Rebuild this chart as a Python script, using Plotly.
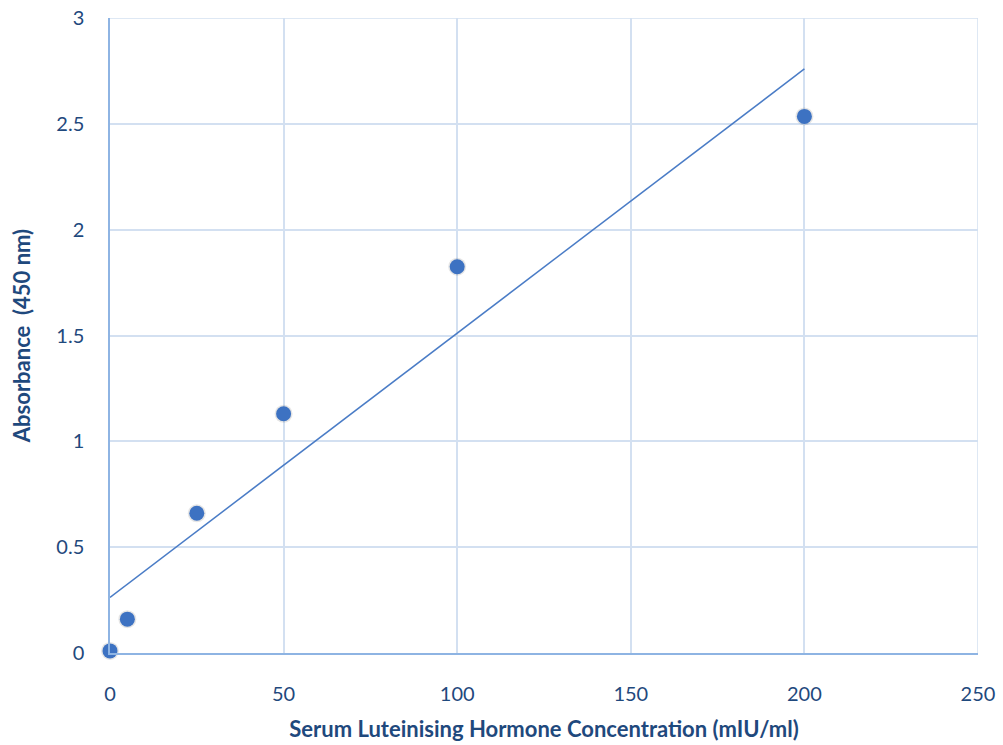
import numpy as np
import plotly.graph_objects as go

concentration = [0, 5, 25, 50, 100, 200]
absorbance = [0.01, 0.16, 0.66, 1.13, 1.825, 2.535]
x_ticks = [0, 50, 100, 150, 200, 250]
y_ticks = [0, 0.5, 1, 1.5, 2, 2.5, 3]
y_tick_labels = ["0", "0.5", "1", "1.5", "2", "2.5", "3"]

slope, intercept = np.polyfit(concentration, absorbance, 1)
trend_x = [min(concentration), max(concentration)]
trend_y = [intercept + slope * v for v in trend_x]

navy = "#1F497D"
font = "Lato, 'Open Sans', sans-serif"
grid = "#D3E0F1"

fig = go.Figure()
fig.add_trace(go.Scatter(
    x=trend_x, y=trend_y, mode="lines",
    line=dict(color="#4A7CC6", width=1.5),
    hoverinfo="skip", showlegend=False))
# soft shadow
fig.add_trace(go.Scatter(
    x=concentration, y=absorbance, mode="markers",
    marker=dict(size=18, color="rgba(0,0,0,0.10)", line=dict(width=0)),
    hoverinfo="skip", showlegend=False, cliponaxis=False))
fig.add_trace(go.Scatter(
    x=concentration, y=absorbance, mode="markers",
    marker=dict(size=15, color="#3D72C2", line=dict(width=0)),
    showlegend=False, cliponaxis=False))

fig.update_layout(
    width=1003, height=745,
    margin=dict(l=110, r=25, t=18, b=92),
    paper_bgcolor="white", plot_bgcolor="white",
    font=dict(family=font, color=navy, size=20),
    xaxis=dict(
        range=[0, 250], tickvals=x_ticks, ticktext=[str(t) for t in x_ticks],
        showgrid=True, gridcolor=grid, gridwidth=1.5,
        showline=True, linecolor="#8EB4E3", linewidth=1.5,
        zeroline=False, ticks="", ticklen=0, automargin=False,
        ticklabelstandoff=22, ticklabeloverflow="allow",
        tickfont=dict(size=20, color=navy),
        title=dict(text="<b>Serum Luteinising Hormone Concentration (mIU/ml)</b>",
                   font=dict(size=22, color=navy), standoff=18)),
    yaxis=dict(
        range=[0, 3], tickvals=y_ticks, ticktext=y_tick_labels,
        showgrid=True, gridcolor=grid, gridwidth=1.5,
        showline=True, linecolor="#8EB4E3", linewidth=1.5,
        zeroline=False, ticks="", ticklen=0, automargin=False,
        ticklabelstandoff=20, ticklabeloverflow="allow",
        tickfont=dict(size=20, color=navy),
        title=dict(text="<b>Absorbance  (450 nm)</b>",
                   font=dict(size=22, color=navy), standoff=20)),
)
fig.add_shape(type="line", xref="x", yref="y", x0=250, x1=250, y0=0, y1=3,
              line=dict(color=grid, width=1.5), layer="below")
fig.add_shape(type="line", xref="x", yref="y", x0=0, x1=250, y0=3, y1=3,
              line=dict(color=grid, width=1.5), layer="below")

fig.write_html("out.html",
               config={"displayModeBar": False},
               post_script="document.body.style.margin='0';document.body.style.overflow='hidden';")
